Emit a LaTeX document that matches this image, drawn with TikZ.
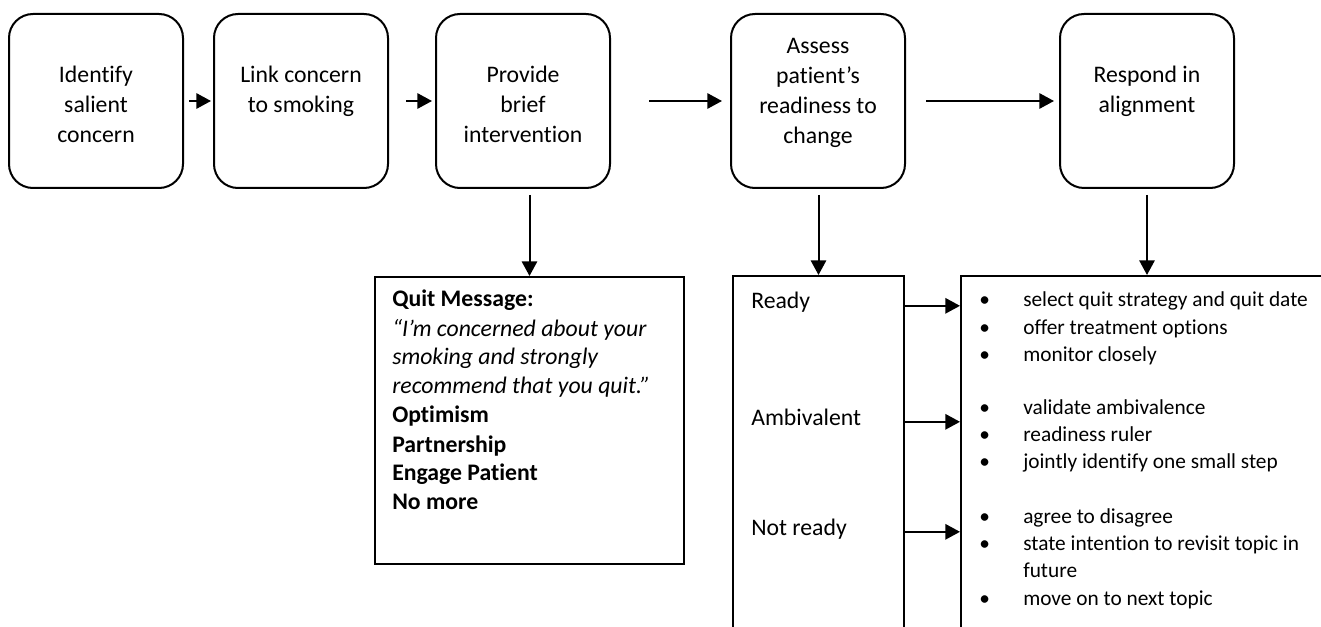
\documentclass[tikz,border=0pt]{standalone}
\usepackage{fontspec}
\setmainfont{Carlito}[Ligatures={NoCommon,NoContextual}, RawFeature={-calt}]
\usetikzlibrary{arrows.meta,positioning,calc}
\newcommand{\ctab}[1]{\begin{tabular}[t]{@{}c@{}}#1\end{tabular}}
\newcommand{\ltab}[1]{\begin{tabular}[t]{@{}l@{}}#1\end{tabular}}
\newcommand{\btab}[1]{\begin{tabular}[t]{@{}p{33pt}@{}l@{}}#1\end{tabular}}

\begin{document}
\begin{tikzpicture}[x=0.75pt, y=-0.75pt,
    stepbox/.style={draw, line width=1.5pt, rounded corners=18pt, minimum width=130.5pt, minimum height=130.5pt, inner sep=0pt},
    steptext/.style={anchor=base, inner sep=0pt, font=\fontsize{17.8}{22.5}\selectfont},
    listbox/.style={draw, line width=1.5pt, anchor=north west, inner sep=0pt},
    labtext/.style={anchor=base west, inner sep=0pt, font=\fontsize{17.8}{21.75}\selectfont},
    bultext/.style={anchor=base west, inner sep=0pt, font=\fontsize{16}{20.5}\selectfont},
    arr/.style={-{Triangle[length=11pt,width=11.5pt]}, line width=1.5pt}
]
\useasboundingbox (0,0) rectangle (1321,627);

% steps along the top
\node[stepbox] (b1) at (96,101) {};
\node[stepbox] (b2) at (301,101) {};
\node[stepbox] (b3) at (523,101) {};
\node[stepbox] (b4) at (818,101) {};
\node[stepbox] (b5) at (1147,101) {};

\node[steptext] (t1) at (96,82.5) {\ctab{Identify\\salient\\concern}};
\node[steptext] (t2) at (301,82.5) {\ctab{Link concern\\to smoking}};
\node[steptext] (t3) at (523,82.5) {\ctab{Provide\\brief\\intervention}};
\node[steptext] (t4) at (818,53.5) {\ctab{Assess\\patient’s\\readiness to\\change}};
\node[steptext] (t5) at (1147,82.5) {\ctab{Respond in\\alignment}};

\draw[arr, shorten <=3.75pt, shorten >=1.5pt] (b1) -- (b2);
\draw[arr, shorten <=12.75pt, shorten >=2.25pt] (b2) -- (b3);
\draw[arr, shorten <=28.5pt, shorten >=6pt] (b3) -- (b4);
\draw[arr, shorten <=15pt, shorten >=3.75pt] (b4) -- (b5);

% boxes below
\node[listbox, minimum width=231.75pt, minimum height=215.25pt] (quit) at (374,276) {};
\node[listbox, minimum width=128.25pt, minimum height=300pt] (rdy) at (732,275) {};
\node[listbox, minimum width=300pt, minimum height=300pt] (resp) at (960,275) {};

\node[labtext] (qmsg) at (392,307) {\ltab{\textbf{Quit Message:}\\
  \textit{“I’m concerned about your}\\
  \textit{smoking and strongly}\\
  \textit{recommend that you quit.”}\\
  \textbf{Optimism}\\
  \textbf{Partnership}\\
  \textbf{Engage Patient}\\
  \textbf{No more}}};

\node[labtext] (lr) at (751,309) {Ready};
\node[labtext] (la) at (751,425) {Ambivalent};
\node[labtext] (ln) at (751,535) {Not ready};

\node[bultext] (g1) at (979,307) {\btab{\textbullet & select quit strategy and quit date\\
  \textbullet & offer treatment options\\
  \textbullet & monitor closely}};
\node[bultext] (g2) at (979,414) {\btab{\textbullet & validate ambivalence\\
  \textbullet & readiness ruler\\
  \textbullet & jointly identify one small step}};
\node[bultext] (g3) at (979,523) {\btab{\textbullet & agree to disagree\\
  \textbullet & state intention to revisit topic in\\
  & future\\
  \textbullet & move on to next topic}};

\draw[arr, shorten <=4.5pt] (quit.north |- b3.south) -- (quit.north);
\draw[arr, shorten <=4.5pt] (rdy.north |- b4.south) -- (rdy.north);
\draw[arr, shorten <=4.5pt] (b5.south) -- (b5.south |- resp.north);

\draw[arr] (lr.mid -| rdy.east) -- (lr.mid -| resp.west);
\draw[arr] (la.mid -| rdy.east) -- (la.mid -| resp.west);
\draw[arr] (ln.mid -| rdy.east) -- (ln.mid -| resp.west);
\end{tikzpicture}
\end{document}
